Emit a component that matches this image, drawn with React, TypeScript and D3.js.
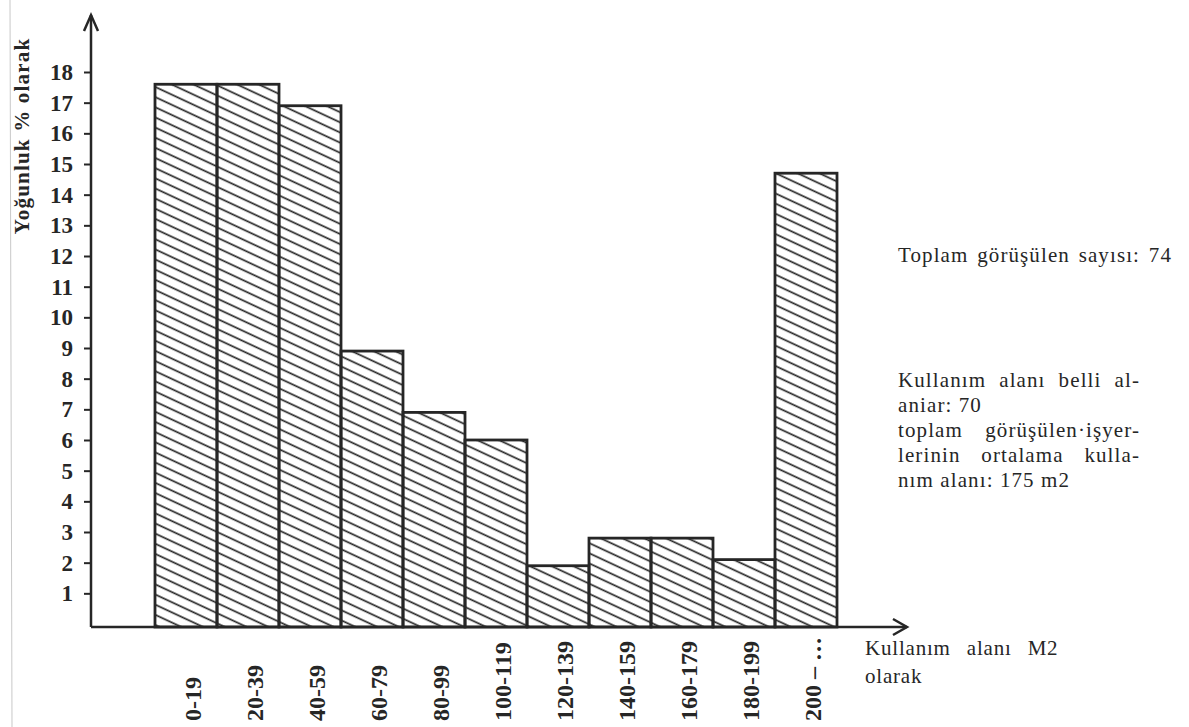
import { useRef, useEffect } from "react";
import * as d3 from "d3";

const categories = ["0-19", "20-39", "40-59", "60-79", "80-99", "100-119", "120-139", "140-159", "160-179", "180-199", "200 – …"];
const values = [17.6, 17.6, 16.9, 8.9, 6.9, 6.0, 1.9, 2.8, 2.8, 2.1, 14.7];
const yTicks = [1, 2, 3, 4, 5, 6, 7, 8, 9, 10, 11, 12, 13, 14, 15, 16, 17, 18];
const yTitle = "Yoğunluk % olarak";
const xTitle = ["Kullanım alanı M2", "olarak"];
const noteTop = "Toplam görüşülen sayısı: 74";
const noteLines = [
  { text: "Kullanım alanı belli al-", justify: true },
  { text: "aniar: 70", justify: false },
  { text: "toplam görüşülen·işyer-", justify: true },
  { text: "lerinin ortalama kulla-", justify: true },
  { text: "nım alanı: 175 m2", justify: false },
];

const ink = "#262626";
const font = "'Liberation Serif', 'DejaVu Serif', serif";

// spread words so the line fills the given width
const justify = (sel: d3.Selection<SVGTextElement, unknown, null, undefined>, width: number) => {
  const node = sel.node();
  if (!node) return;
  const len = node.getComputedTextLength();
  const gaps = (sel.text().match(/ /g) || []).length;
  if (gaps > 0 && len < width) sel.attr("word-spacing", (width - len) / gaps);
};

const App = () => {
  const ref = useRef<SVGSVGElement>(null);

  useEffect(() => {
    const svg = d3.select(ref.current);
    svg.selectAll("*").remove();

    const x0 = 91;
    const y0 = 627;

    const x = d3.scaleBand<string>().domain(categories).range([155, 837]).padding(0);
    const y = d3.scaleLinear().domain([0, 18]).range([624, 72]);

    // hatch pattern
    svg
      .append("defs")
      .append("pattern")
      .attr("id", "hatch")
      .attr("patternUnits", "userSpaceOnUse")
      .attr("width", 10)
      .attr("height", 9.2)
      .attr("patternTransform", "rotate(25)")
      .append("line")
      .attr("x1", 0)
      .attr("x2", 10)
      .attr("y1", 4)
      .attr("y2", 4)
      .attr("stroke", ink)
      .attr("stroke-width", 1.7);

    // faint scan edge
    svg
      .append("line")
      .attr("x1", 10)
      .attr("x2", 12)
      .attr("y1", 0)
      .attr("y2", 727)
      .attr("stroke", "#c8c8c8")
      .attr("stroke-width", 1);

    // bars
    svg
      .selectAll(".bar")
      .data(values)
      .enter()
      .append("rect")
      .attr("class", "bar")
      .attr("x", (_d, i) => x(categories[i]) as number)
      .attr("y", d => y(d))
      .attr("width", x.bandwidth())
      .attr("height", d => y0 - y(d))
      .attr("fill", "url(#hatch)")
      .attr("stroke", ink)
      .attr("stroke-width", 2.8);

    // y axis ticks
    const yAxis = svg
      .append("g")
      .attr("transform", `translate(${x0},0)`)
      .call(d3.axisLeft(y).tickValues(yTicks).tickSize(7).tickPadding(11).tickFormat(d3.format("d")));
    yAxis.select(".domain").remove();
    yAxis.selectAll("line").attr("stroke", ink).attr("stroke-width", 2);
    yAxis
      .selectAll("text")
      .attr("font-family", font)
      .attr("font-size", 23)
      .attr("font-weight", "bold")
      .attr("fill", ink);

    // axes lines with arrows
    const axisPath = svg.append("g").attr("stroke", ink).attr("stroke-width", 2.5).attr("fill", "none");
    axisPath.append("path").attr("d", `M${x0},${y0}V15`);
    axisPath.append("path").attr("d", `M${x0 - 7},31L${x0},15L${x0 + 7},31`);
    axisPath.append("path").attr("d", `M${x0},${y0}H907`);
    axisPath.append("path").attr("d", `M893,619L907,${y0}L893,635`);

    // x labels
    svg
      .selectAll(".xlab")
      .data(categories)
      .enter()
      .append("text")
      .attr("class", "xlab")
      .attr("transform", d => `translate(${(x(d) as number) + x.bandwidth() / 2 + 7},721) rotate(-90)`)
      .attr("dominant-baseline", "central")
      .attr("font-family", font)
      .attr("font-size", 24)
      .attr("font-weight", "bold")
      .attr("fill", ink)
      .text(d => d);

    // y title
    svg
      .append("text")
      .attr("transform", "translate(22,136) rotate(-90)")
      .attr("text-anchor", "middle")
      .attr("dominant-baseline", "central")
      .attr("font-family", font)
      .attr("font-size", 21)
      .attr("font-weight", "bold")
      .attr("letter-spacing", 1.2)
      .attr("fill", ink)
      .text(yTitle);

    // x title
    xTitle.forEach((t, i) => {
      svg
        .append("text")
        .attr("x", 865)
        .attr("y", 655 + i * 28)
        .attr("font-family", font)
        .attr("font-size", 21)
        .attr("letter-spacing", 0.8)
        .attr("word-spacing", i === 0 ? 10 : 0)
        .attr("fill", ink)
        .text(t);
    });

    // notes
    const top = svg
      .append("text")
      .attr("x", 898)
      .attr("y", 262)
      .attr("font-family", font)
      .attr("font-size", 21)
      .attr("letter-spacing", 1.1)
      .attr("fill", ink)
      .text(noteTop);
    justify(top, 274);

    noteLines.forEach((l, i) => {
      const t = svg
        .append("text")
        .attr("x", 898)
        .attr("y", 387 + i * 25)
        .attr("font-family", font)
        .attr("font-size", 21)
        .attr("letter-spacing", 1.1)
        .attr("fill", ink)
        .text(l.text);
      if (l.justify) justify(t, 242);
    });
  }, []);

  return (
    <svg
      ref={ref}
      width={1189}
      height={727}
      style={{ position: "absolute", left: 0, top: 0, background: "#fff" }}
    />
  );
};

export default App;
